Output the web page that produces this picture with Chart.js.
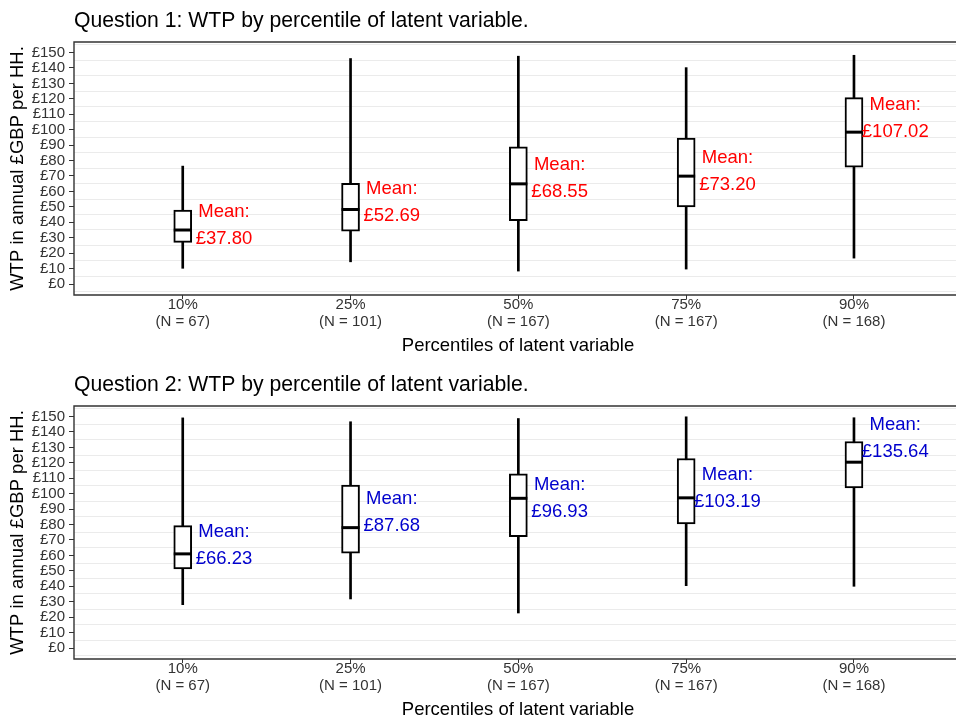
<!DOCTYPE html>
<html>
<head>
<meta charset="utf-8">
<script src="https://cdn.jsdelivr.net/npm/chart.js@4.4.1/dist/chart.umd.min.js"></script>
<style>
  html, body { margin: 0; padding: 0; background: #fff; }
  #wrap { position: relative; width: 956px; height: 718px; overflow: hidden; }
  canvas { position: absolute; left: 0; }
  #c1 { top: 0; }
  #c2 { top: 364px; }
</style>
</head>
<body>
<div id="wrap">
  <canvas id="c1" width="956" height="364" style="width:956px;height:364px"></canvas>
  <canvas id="c2" width="956" height="354" style="width:956px;height:354px"></canvas>
</div>
<script>
// categories and tick labels
const categories = ['10%', '25%', '50%', '75%', '90%'];
const nLabels = ['(N = 67)', '(N = 101)', '(N = 167)', '(N = 167)', '(N = 168)'];
const yTicks = [0, 10, 20, 30, 40, 50, 60, 70, 80, 90, 100, 110, 120, 130, 140, 150];
const gridTicks = [-5, 5, 15, 25, 35, 45, 55, 65, 75, 85, 95, 105, 115, 125, 135, 145, 155];

// Question 1
const q1Min    = [10.2, 14.4, 8.4, 9.7, 16.8];
const q1Lower  = [27.0, 34.3, 41.0, 50.0, 75.7];
const q1Median = [35.0, 48.3, 64.9, 69.9, 98.4];
const q1Upper  = [47.9, 65.2, 88.9, 94.5, 120.8];
const q1Max    = [76.4, 146.1, 147.6, 140.2, 148.2];
const q1Mean   = [37.80, 52.69, 68.55, 73.20, 107.02];

// Question 2
const q2Min    = [28.1, 31.8, 22.7, 40.4, 40.0];
const q2Lower  = [51.2, 61.4, 72.2, 80.4, 103.8];
const q2Median = [61.0, 78.0, 97.0, 97.3, 120.4];
const q2Upper  = [79.3, 105.5, 112.8, 122.8, 133.8];
const q2Max    = [149.1, 146.6, 148.7, 149.8, 149.2];
const q2Mean   = [66.23, 87.68, 96.93, 103.19, 135.64];

const FONT = '"Liberation Sans", Arial, Helvetica, sans-serif';
const axisCol = '#333';

// titles, axis titles, panel border and the mean labels
const annot = {
  id: 'annot',
  afterDatasetsDraw(chart, args, o) {
    const {ctx, chartArea: a} = chart;
    const xs = chart.scales.x, ys = chart.scales.y;
    ctx.save();
    ctx.font = `18.5px ${FONT}`;
    ctx.fillStyle = o.meanColor;
    ctx.textAlign = 'center';
    ctx.textBaseline = 'middle';
    o.means.forEach((m, i) => {
      const x = xs.getPixelForValue(i + 0.246);
      const y = ys.getPixelForValue(m);
      ctx.fillText('Mean:', x, y - 13.5);
      ctx.fillText('£' + m.toFixed(2), x, y + 13.5);
    });
    // panel border (right edge is cut off in the picture)
    ctx.strokeStyle = axisCol;
    ctx.lineWidth = 1.4;
    ctx.beginPath();
    ctx.moveTo(a.right, a.top); ctx.lineTo(a.left, a.top);
    ctx.lineTo(a.left, a.bottom); ctx.lineTo(a.right, a.bottom);
    ctx.stroke();
    ctx.restore();
  },
  afterDraw(chart, args, o) {
    const {ctx, chartArea: a} = chart;
    ctx.save();
    ctx.fillStyle = '#000';
    ctx.font = `21.2px ${FONT}`;
    ctx.textAlign = 'left';
    ctx.textBaseline = 'alphabetic';
    ctx.fillText(o.title, a.left, 27);
    ctx.font = `18.5px ${FONT}`;
    ctx.textAlign = 'center';
    ctx.textBaseline = 'middle';
    ctx.fillText('Percentiles of latent variable', (a.left + a.right) / 2 + 3, 346);
    ctx.translate(18, (a.top + a.bottom) / 2);
    ctx.rotate(-Math.PI / 2);
    ctx.fillText('WTP in annual £GBP per HH.', 0, 0);
    ctx.restore();
  }
};

function makeChart(id, title, mins, lows, meds, ups, maxs, means, meanColor, xAxisH) {
  return new Chart(document.getElementById(id), {
    type: 'bar',
    data: {
      datasets: [
        { type: 'line', label: 'median', xAxisID: 'x', yAxisID: 'y',
          data: meds.map((m, i) => ({x: i, y: m})),
          showLine: false, pointStyle: 'line', pointRadius: 9, pointHoverRadius: 9,
          pointBorderWidth: 3, pointBorderColor: '#000', borderColor: '#000', order: 0 },
        { type: 'bar', label: 'box', xAxisID: 'x', yAxisID: 'y',
          data: lows.map((l, i) => ({x: i, y: [l, ups[i]]})),
          backgroundColor: '#fff', borderColor: '#000', borderWidth: 2, borderSkipped: false,
          barThickness: 18, grouped: false, order: 1 },
        { type: 'bar', label: 'whisker', xAxisID: 'x', yAxisID: 'y',
          data: mins.map((m, i) => ({x: i, y: [m, maxs[i]]})),
          backgroundColor: '#000', borderWidth: 0, barThickness: 2, grouped: false, order: 2 }
      ]
    },
    options: {
      responsive: false,
      animation: false,
      events: [],
      layout: { autoPadding: false, padding: { top: 42, right: 0, left: 0, bottom: 0 } },
      plugins: {
        legend: { display: false },
        tooltip: { enabled: false },
        annot: { title, means, meanColor }
      },
      scales: {
        x: {
          type: 'linear', min: -0.648, max: 4.608, offset: false,
          afterBuildTicks: s => { s.ticks = categories.map((c, i) => ({value: i})); },
          afterFit: s => { s.height = xAxisH; },
          ticks: { callback: v => [categories[v], nLabels[v]], color: axisCol,
                   font: { family: FONT, size: 15, lineHeight: 1.15 }, padding: -3,
                   maxRotation: 0, autoSkip: false },
          grid: { drawOnChartArea: false, offset: false, tickLength: 4, color: axisCol },
          border: { display: false }
        },
        y: {
          position: 'left', min: -7.1, max: 156.8,
          afterBuildTicks: s => { s.ticks = yTicks.map(v => ({value: v})); },
          afterFit: s => { s.width = 74; },
          ticks: { callback: v => '£' + v, color: axisCol, font: { family: FONT, size: 15 },
                   padding: 4, autoSkip: false },
          grid: { drawOnChartArea: false, tickLength: 5, color: axisCol },
          border: { display: false }
        },
        yg: {
          position: 'left', min: -7.1, max: 156.8,
          afterBuildTicks: s => { s.ticks = gridTicks.map(v => ({value: v})); },
          afterFit: s => { s.width = 0; },
          ticks: { display: false },
          grid: { color: '#ebebeb', lineWidth: 1.1, drawTicks: false },
          border: { display: false }
        }
      }
    },
    plugins: [annot]
  });
}

makeChart('c1', 'Question 1: WTP by percentile of latent variable.',
  q1Min, q1Lower, q1Median, q1Upper, q1Max, q1Mean, '#ff0000', 69);
makeChart('c2', 'Question 2: WTP by percentile of latent variable.',
  q2Min, q2Lower, q2Median, q2Upper, q2Max, q2Mean, '#0000cd', 59);
</script>
</body>
</html>
